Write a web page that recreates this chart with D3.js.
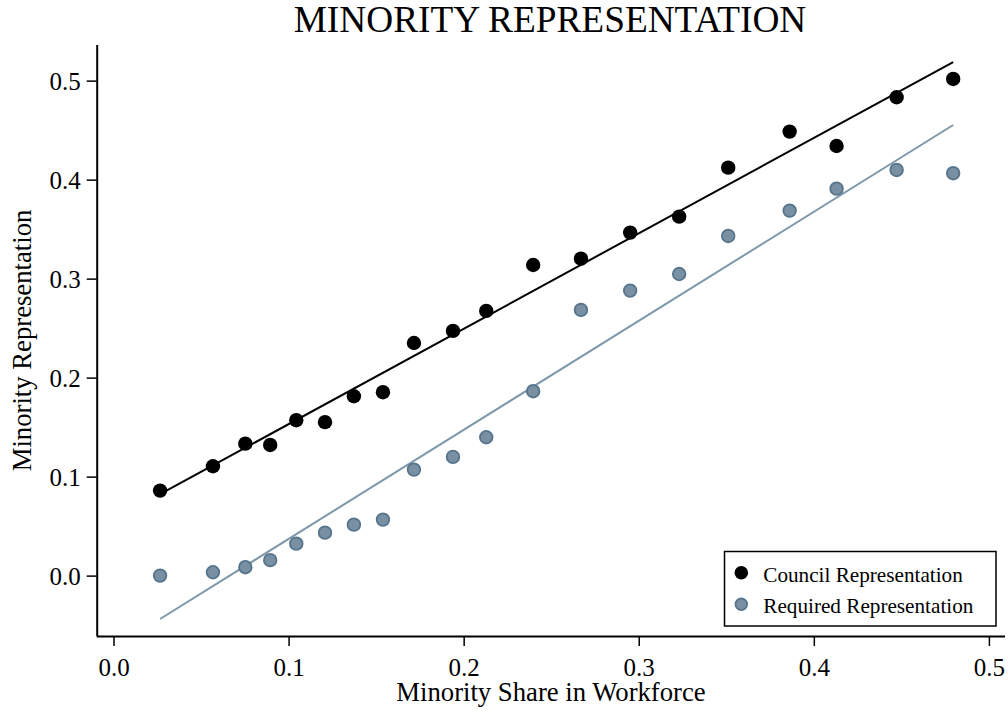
<!DOCTYPE html>
<html>
<head>
<meta charset="utf-8">
<script src="https://cdn.jsdelivr.net/npm/d3@7"></script>
<style>
  html, body { margin: 0; padding: 0; background: #fff; }
  svg { display: block; }
  text { font-family: "Liberation Serif", "Times New Roman", serif; fill: #000; }
</style>
</head>
<body>
<svg id="chart" width="1008" height="711"></svg>
<script>
// ---- data ----
const workforceShare = [0.0266, 0.0568, 0.0753, 0.0895, 0.1044, 0.1208, 0.1373, 0.1539, 0.1716, 0.1939,
                        0.2129, 0.2397, 0.2670, 0.2951, 0.3231, 0.3511, 0.3862, 0.4130, 0.4473, 0.4796];
const councilRep = [0.0859, 0.1105, 0.1333, 0.1320, 0.1570, 0.1550, 0.1812, 0.1853, 0.2350, 0.2472,
                    0.2674, 0.3138, 0.3202, 0.3465, 0.3626, 0.4121, 0.4485, 0.4340, 0.4832, 0.5017];
const requiredRep = [0.0000, 0.0034, 0.0085, 0.0156, 0.0323, 0.0434, 0.0515, 0.0566, 0.1071, 0.1199,
                     0.1398, 0.1863, 0.2684, 0.2879, 0.3047, 0.3431, 0.3687, 0.3909, 0.4098, 0.4065];
const xTicks = [0.0, 0.1, 0.2, 0.3, 0.4, 0.5];
const yTicks = [0.0, 0.1, 0.2, 0.3, 0.4, 0.5];
const seriesNames = ["Council Representation", "Required Representation"];
const titleText = "MINORITY REPRESENTATION";
const xTitle = "Minority Share in Workforce";
const yTitle = "Minority Representation";

(function () {
// ---- layout ----
const svg = d3.select("#chart");
const pL = 96.7, pR = 1005, pT = 45, pB = 636;
const x = d3.scaleLinear().domain([-0.0096, 0.5092]).range([pL, pR]);
const y = d3.scaleLinear().domain([-0.061, 0.536]).range([pB, pT]);

const colBlack = "#000000";
const colGrayFill = "#7890a2";
const colGrayStroke = "#56748c";
const colGrayLine = "#7d98aa";

function ols(xs, ys) {
  const mx = d3.mean(xs), my = d3.mean(ys);
  let sxy = 0, sxx = 0;
  xs.forEach((v, i) => { sxy += (v - mx) * (ys[i] - my); sxx += (v - mx) * (v - mx); });
  const b = sxy / sxx;
  return { a: my - b * mx, b };
}

// axes
const xAxis = d3.axisBottom(x).tickValues(xTicks).tickFormat(d3.format(".1f")).tickSize(10).tickSizeOuter(0);
const yAxis = d3.axisLeft(y).tickValues(yTicks).tickFormat(d3.format(".1f")).tickSize(10).tickSizeOuter(0);

const gx = svg.append("g").attr("transform", `translate(0,${pB})`).call(xAxis);
gx.select(".domain").attr("d", `M${pL},0.5H${pR}`).attr("stroke", "#000").attr("stroke-width", 2);
gx.selectAll(".tick line").attr("stroke", "#000").attr("stroke-width", 1.5);
gx.selectAll(".tick text").attr("font-family", "Liberation Serif").attr("font-size", 25).attr("dy", 0).attr("y", 40).attr("fill", "#000");

const gy = svg.append("g").attr("transform", `translate(${pL},0)`).call(yAxis);
gy.select(".domain").attr("d", `M0.5,${pT}V${pB}`).attr("stroke", "#000").attr("stroke-width", 2);
gy.selectAll(".tick line").attr("stroke", "#000").attr("stroke-width", 1.5);
gy.selectAll(".tick text").attr("font-family", "Liberation Serif").attr("font-size", 25).attr("x", -16).attr("dy", "0.34em").attr("fill", "#000");

// fit lines
const x0 = d3.min(workforceShare), x1 = d3.max(workforceShare);
const line = d3.line().x(d => x(d[0])).y(d => y(d[1]));
[[requiredRep, colGrayLine], [councilRep, colBlack]].forEach(([ys, c]) => {
  const f = ols(workforceShare, ys);
  svg.append("path")
    .attr("d", line([[x0, f.a + f.b * x0], [x1, f.a + f.b * x1]]))
    .attr("stroke", c).attr("stroke-width", 2).attr("fill", "none");
});

// points
svg.append("g").selectAll("circle").data(workforceShare).join("circle")
  .attr("cx", d => x(d)).attr("cy", (d, i) => y(requiredRep[i])).attr("r", 6.3)
  .attr("fill", colGrayFill).attr("stroke", colGrayStroke).attr("stroke-width", 1.8);
svg.append("g").selectAll("circle").data(workforceShare).join("circle")
  .attr("cx", d => x(d)).attr("cy", (d, i) => y(councilRep[i])).attr("r", 7.2)
  .attr("fill", colBlack);

// titles
svg.append("text").attr("x", 550).attr("y", 32).attr("text-anchor", "middle")
  .attr("font-size", 37.3).text(titleText);
svg.append("text").attr("x", 551).attr("y", 701).attr("text-anchor", "middle")
  .attr("font-size", 26.7).text(xTitle);
svg.append("text").attr("transform", `translate(31,${(pT + pB) / 2}) rotate(-90)`).attr("text-anchor", "middle")
  .attr("font-size", 26.7).text(yTitle);

// legend
const lg = svg.append("g");
lg.append("rect").attr("x", 724.5).attr("y", 551.5).attr("width", 271.5).attr("height", 74.5)
  .attr("fill", "#fff").attr("stroke", "#000").attr("stroke-width", 1.5);
const legendItems = [
  { name: seriesNames[0], fill: colBlack, stroke: "none", r: 6.8, sw: 0 },
  { name: seriesNames[1], fill: colGrayFill, stroke: colGrayStroke, r: 5.8, sw: 1.8 }
];
legendItems.forEach((it, i) => {
  const cy = 572.7 + i * 31.6;
  lg.append("circle").attr("cx", 741.3).attr("cy", cy).attr("r", it.r)
    .attr("fill", it.fill).attr("stroke", it.stroke).attr("stroke-width", it.sw);
  lg.append("text").attr("x", 763.3).attr("y", cy + 9).attr("font-size", 21.2).text(it.name);
});
})();
</script>
</body>
</html>
